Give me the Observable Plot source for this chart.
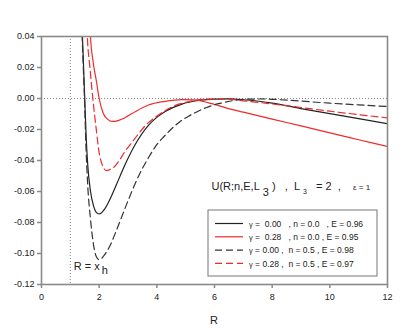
<!DOCTYPE html>
<html>
<head>
<meta charset="utf-8">
<script src="https://cdn.jsdelivr.net/npm/d3@7"></script>
<script src="https://cdn.jsdelivr.net/npm/@observablehq/plot@0.6"></script>
<style>
  html, body { margin: 0; padding: 0; background: #fff; }
  svg text { white-space: pre; }
</style>
</head>
<body>
<div id="chart"></div>
<script>
// ---- Data ----
// gamma = 0.00, n = 0.0, E = 0.96  (black solid)
const R_g000_n00 = [1.36, 1.42, 1.46, 1.50, 1.55, 1.60, 1.70, 1.80, 1.90, 2.00, 2.20, 2.40, 2.60, 2.90, 3.25, 3.70, 4.00, 4.29, 4.87, 5.45, 6.00, 6.50, 7.00, 8.00, 9.00, 10.0, 11.0, 12.0];
const U_g000_n00 = [0.07, 0.04, 0.02, 0.0, -0.025, -0.042, -0.060, -0.069, -0.0735, -0.0745, -0.071, -0.064, -0.0555, -0.0426, -0.0297, -0.0175, -0.0122, -0.0084, -0.0036, -0.0013, -0.0004, -0.0003, -0.0008, -0.003, -0.0065, -0.0098, -0.013, -0.0163];

// gamma = 0.28, n = 0.0, E = 0.95  (red solid)
const R_g028_n00 = [1.66, 1.70, 1.78, 1.90, 2.00, 2.14, 2.30, 2.45, 2.55, 2.80, 3.00, 3.25, 3.71, 4.29, 4.87, 5.30, 5.80, 6.40, 7.00, 8.00, 9.00, 10.0, 11.0, 12.0];
const U_g028_n00 = [0.06, 0.04, 0.025, 0.0116, 0.0, -0.0095, -0.0135, -0.0148, -0.0147, -0.0132, -0.0112, -0.0085, -0.0042, -0.0018, -0.0007, -0.0009, -0.0028, -0.006, -0.0088, -0.0133, -0.0177, -0.0222, -0.0266, -0.031];

// gamma = 0.00, n = 0.5, E = 0.98  (black dashed)
const R_g000_n05 = [1.36, 1.41, 1.45, 1.49, 1.54, 1.60, 1.70, 1.80, 1.90, 2.00, 2.20, 2.40, 2.60, 2.80, 3.00, 3.20, 3.42, 3.70, 3.95, 4.25, 4.53, 4.80, 5.10, 5.40, 5.70, 6.00, 6.30, 6.70, 7.20, 7.70, 8.30, 9.00, 10.0, 11.0, 12.0];
const U_g000_n05 = [0.07, 0.04, 0.02, 0.0, -0.03, -0.055, -0.078, -0.094, -0.102, -0.104, -0.1005, -0.094, -0.085, -0.0755, -0.066, -0.057, -0.048, -0.0385, -0.031, -0.0245, -0.0192, -0.015, -0.0114, -0.0085, -0.006, -0.004, -0.0027, -0.0012, -0.0004, -0.0003, -0.0008, -0.0017, -0.003, -0.0041, -0.0052];

// gamma = 0.28, n = 0.5, E = 0.97  (red dashed)
const R_g028_n05 = [1.55, 1.59, 1.68, 1.78, 1.90, 2.00, 2.10, 2.25, 2.40, 2.50, 2.70, 2.90, 3.13, 3.60, 4.07, 4.60, 5.20, 5.80, 6.30, 7.00, 8.00, 9.00, 10.0, 11.0, 12.0];
const U_g028_n05 = [0.06, 0.04, 0.02, 0.0, -0.02, -0.035, -0.0425, -0.0465, -0.0455, -0.0445, -0.040, -0.034, -0.0285, -0.0175, -0.0105, -0.0048, -0.0016, -0.0004, -0.0003, -0.0015, -0.0035, -0.0058, -0.0082, -0.0104, -0.0125];

const seriesLabels = [
  "\u03b3 =  0.00   , n = 0.0   , E = 0.96",
  "\u03b3 =  0.28   , n = 0.0 , E = 0.95",
  "\u03b3 = 0.00 ,  n = 0.5 , E = 0.98",
  "\u03b3 = 0.28 ,  n = 0.5 , E = 0.97"
];
const seriesR = [R_g000_n00, R_g028_n00, R_g000_n05, R_g028_n05];
const seriesU = [U_g000_n00, U_g028_n00, U_g000_n05, U_g028_n05];
const seriesColors = ["#222222", "#f02a2a", "#333333", "#f02a2a"];
const seriesDash = [null, null, "7,4", "7,4"];

const xTicks = [0, 2, 4, 6, 8, 10, 12];
const yTicks = [0.04, 0.02, 0.00, -0.02, -0.04, -0.06, -0.08, -0.10, -0.12];
const yTickLabels = ["0.04", "0.02", "0.00", "-0.02", "-0.04", "-0.06", "-0.08", "-0.10", "-0.12"];

// ---- Build table ----
const rows = [];
seriesR.forEach((rs, i) => rs.forEach((r, j) => rows.push({s: i, R: r, U: seriesU[i][j]})));

const axisGray = "#8a8a8a";
const font = "Liberation Sans, Arial, sans-serif";

const lineMarks = seriesR.map((_, i) =>
  Plot.line(rows.filter(d => d.s === i), {
    x: "R", y: "U", stroke: seriesColors[i], strokeWidth: 1.2,
    strokeDasharray: seriesDash[i] || undefined, curve: "monotone-x", clip: true
  })
);

const plot = Plot.plot({
  width: 407, height: 329,
  marginLeft: 41, marginRight: 20, marginTop: 36, marginBottom: 45,
  style: {fontFamily: font, fontSize: "9px", color: "#222", background: "#fff"},
  x: {domain: [0, 12]},
  y: {domain: [-0.12, 0.04]},
  marks: [
    Plot.ruleY([0], {stroke: "#888", strokeDasharray: "1,2", strokeWidth: 1}),
    Plot.ruleX([1], {stroke: "#888", strokeDasharray: "1,2", strokeWidth: 1}),
    ...lineMarks,
    Plot.frame({stroke: axisGray, strokeWidth: 1.6}),
    Plot.axisY({ticks: yTicks, tickSize: 4, tickPadding: 3, stroke: axisGray, strokeWidth: 1.5,
      tickFormat: d => yTickLabels[yTicks.findIndex(t => Math.abs(t - d) < 1e-9)], label: null}),
    Plot.axisX({ticks: xTicks, tickSize: 4, tickPadding: 5, stroke: axisGray, strokeWidth: 1.5,
      tickFormat: d => String(d), label: null})
  ]
});

document.getElementById("chart").appendChild(plot);

// ---- Annotations ----
const sx = plot.scale("x"), sy = plot.scale("y");
const svg = d3.select(plot);
const g = svg.append("g").attr("font-family", font).attr("fill", "#222").attr("text-anchor", "start");

// R axis title
g.append("text").attr("x", sx.apply(6)).attr("y", 324).attr("text-anchor", "middle")
  .attr("font-size", 11).text("R");

// R = x_h label
const rx = g.append("text").attr("x", sx.apply(1) + 4).attr("y", sy.apply(-0.1107)).attr("font-size", 11);
rx.append("tspan").text("R = x");
rx.append("tspan").attr("dx", 2).attr("dy", 4).attr("font-size", 11).text("h");

// Potential label
const t = g.append("text").attr("x", 211.5).attr("y", 190).attr("font-size", 11);
t.append("tspan").text("U(R;n,E,L");
t.append("tspan").attr("dx", 3).attr("dy", 6).text("3");
t.append("tspan").attr("dx", 3).attr("dy", -6).text(")   ,  L");
t.append("tspan").attr("dx", 3).attr("dy", 4).attr("font-size", 7).text("3");
t.append("tspan").attr("dx", 3).attr("dy", -4).text("  = 2  ,    ");
t.append("tspan").attr("font-size", 8).text("\u03b5 = 1");

// Legend box
const lx0 = 208, ly0 = 210, lw = 169, lh = 66;
g.append("rect").attr("x", lx0).attr("y", ly0).attr("width", lw).attr("height", lh)
  .attr("fill", "#fff").attr("stroke", "#777").attr("stroke-width", 1);
seriesLabels.forEach((lab, i) => {
  const yy = 223.5 + i * 13.3;
  g.append("line").attr("x1", 215).attr("x2", 243).attr("y1", yy).attr("y2", yy)
    .attr("stroke", seriesColors[i]).attr("stroke-width", 1.2)
    .attr("stroke-dasharray", seriesDash[i]);
  const tx = g.append("text").attr("x", 249).attr("y", yy + 3.2).attr("font-size", 8.5);
  tx.append("tspan").attr("font-size", 7.5).text(lab.slice(0, 1));
  tx.append("tspan").text(lab.slice(1));
});
</script>
</body>
</html>
